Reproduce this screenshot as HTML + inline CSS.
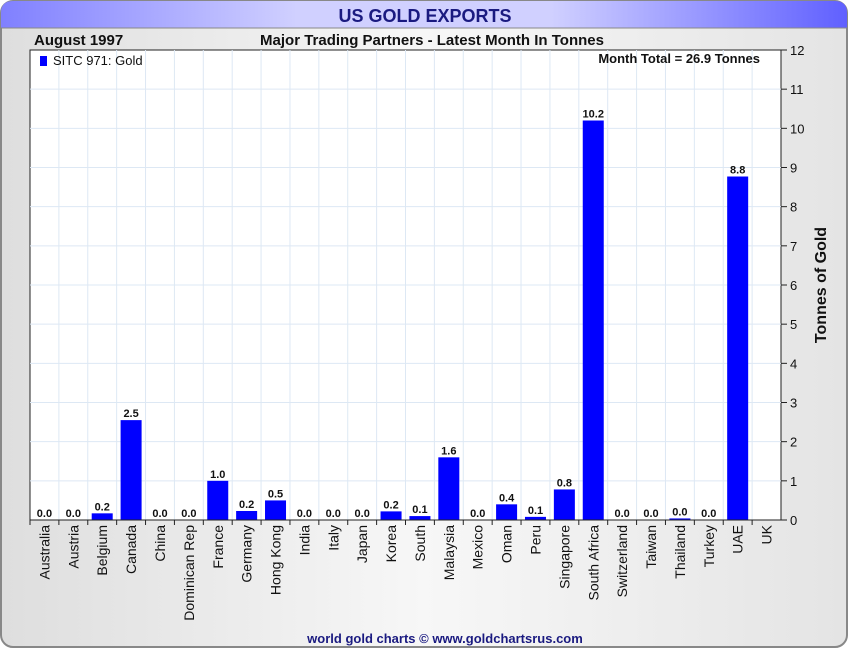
<!DOCTYPE html>
<html><head><meta charset="utf-8"><style>
body{margin:0;width:850px;height:650px;overflow:hidden;background:#fff;font-family:"Liberation Sans",sans-serif}
</style></head><body>
<svg id="c" width="850" height="650" xmlns="http://www.w3.org/2000/svg">
<defs>
<linearGradient id="bg" x1="0" x2="1" y1="0" y2="0"><stop offset="0" stop-color="#dedede"/><stop offset="0.5" stop-color="#f7f7f7"/><stop offset="1" stop-color="#e4e4e4"/></linearGradient>
<linearGradient id="tb" x1="0" x2="1" y1="0" y2="0"><stop offset="0" stop-color="#8080ff"/><stop offset="0.35" stop-color="#d0d0ff"/><stop offset="0.65" stop-color="#d0d0ff"/><stop offset="1" stop-color="#6060ff"/></linearGradient>
</defs>
<rect x="1" y="1" width="846" height="646" rx="12" fill="url(#bg)" stroke="#888" stroke-width="2"/>
<path d="M1,28 L1,13 Q1,1 13,1 L835,1 Q847,1 847,13 L847,28 Z" fill="url(#tb)"/>
<line x1="1" y1="28" x2="847" y2="28" stroke="#888"/>
<text x="425" y="22" text-anchor="middle" font-size="18" font-weight="bold" fill="#1a1a80">US GOLD EXPORTS</text>
<text x="34" y="45" font-size="15" font-weight="bold" fill="#111">August 1997</text>
<text x="432" y="45" text-anchor="middle" font-size="15" font-weight="bold" fill="#111">Major Trading Partners - Latest Month In Tonnes</text>
<rect x="30" y="50" width="751" height="470" fill="#fff" stroke="#222"/>
<g id="grid"></g><g id="bars"></g><g id="axes"></g>
<rect x="40" y="56" width="7" height="10" fill="#0000ff"/>
<text x="53" y="65" font-size="13" fill="#111">SITC 971: Gold</text>
<text x="760" y="63" text-anchor="end" font-size="13" font-weight="bold" fill="#111">Month Total = 26.9 Tonnes</text>
<text transform="translate(826,285) rotate(-90)" text-anchor="middle" font-size="16" font-weight="bold" fill="#111">Tonnes of Gold</text>
<text x="445" y="643" text-anchor="middle" font-size="13" font-weight="bold" fill="#1a1a80">world gold charts © www.goldchartsrus.com</text>
</svg>
<script>
const categories=["Australia","Austria","Belgium","Canada","China","Dominican Rep","France","Germany","Hong Kong","India","Italy","Japan","Korea","South","Malaysia","Mexico","Oman","Peru","Singapore","South Africa","Switzerland","Taiwan","Thailand","Turkey","UAE","UK"];
const values=[0,0,0.17,2.55,0,0,1.0,0.23,0.5,0,0,0,0.22,0.1,1.6,0,0.4,0.08,0.78,10.2,0,0,0.04,0,8.77,null];
const yTicks=[0,1,2,3,4,5,6,7,8,9,10,11,12];
const NS="http://www.w3.org/2000/svg";
const X0=30,X1=781,Y0=520,Y1=50,YMAX=12;
const bw=(X1-X0)/categories.length;
function xs(i){return X0+bw*i;}
function ys(v){return Y0-(Y0-Y1)*v/YMAX;}
function mk(tag,at,parent,txt){const e=document.createElementNS(NS,tag);for(const k in at)e.setAttribute(k,at[k]);if(txt!==undefined)e.textContent=txt;document.getElementById(parent).appendChild(e);return e;}
yTicks.forEach(t=>{
  if(t>0&&t<12){const g=mk('line',{x1:X0,x2:X1,y1:ys(t),y2:ys(t),stroke:'#dde8f4'},'grid');
  
  }
  const tk=mk('line',{x1:X1,x2:X1+6,y1:ys(t),y2:ys(t),stroke:'#222'},'axes');
  
  
  const l=mk('text',{x:X1+9,y:ys(t)+5,'font-size':13,fill:'#111'},'axes',String(t));
  
  
});
categories.forEach((c,i)=>{
  if(i>0){const g=mk('line',{x1:xs(i),x2:xs(i),y1:Y1,y2:Y0,stroke:'#dde8f4'},'grid');
  
  }
  const tk=mk('line',{x1:xs(i),x2:xs(i),y1:Y0,y2:Y0+5,stroke:'#222'},'axes');
  
  
  const cx=xs(i)+bw/2;
  const lab=mk('text',{transform:`translate(${cx+5},525) rotate(-90)`,'text-anchor':'end','font-size':14,fill:'#111'},'axes',c);
  
  
  const v=values[i];
  if(v===null)return;
  const b=mk('rect',{x:cx-10.5,y:ys(v),width:21,height:Y0-ys(v),fill:'#0000ff'},'bars');
  
  
  const vl=mk('text',{x:cx,y:ys(v)-3,'text-anchor':'middle','font-size':11,'font-weight':'bold',fill:'#111'},'bars',v.toFixed(1));
  
  
});
const ax=mk('line',{x1:X0,x2:X1,y1:Y0,y2:Y0,stroke:'#222'},'axes');


</script>
</body></html>
